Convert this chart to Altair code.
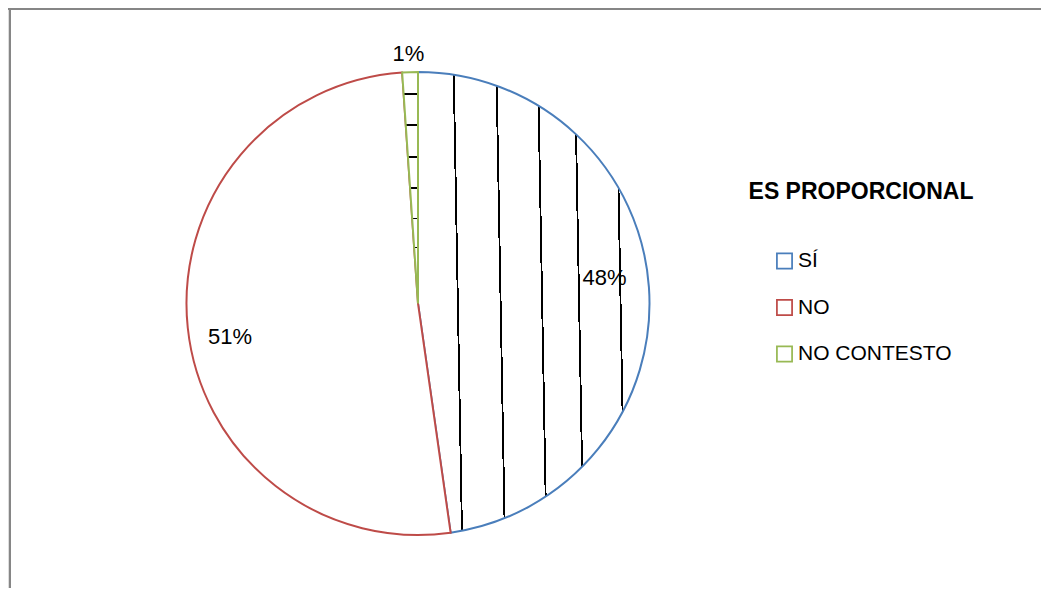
import altair as alt
import pandas as pd

# ---- data ----
categories = ["SÍ", "NO", "NO CONTESTO"]
values = [47.75, 51.16, 1.09]
labels = ["48%", "51%", "1%"]
order = [0, 1, 2]
colors = ["#4A7EBB", "#BE4B48", "#98B954"]
legend_title = "ES PROPORCIONAL"

df = pd.DataFrame({"cat": categories, "value": values, "label": labels, "idx": order})

FONT = "Liberation Sans"
W, H = 1033, 580
CX, CY, R = 410, 295.5, 231.5


def stripes(offsets, hw, vertical_lines=True, slant=0.0):
    stops = [{"offset": 0, "color": "white"}]
    for o in offsets:
        stops += [
            {"offset": round(o - hw, 4), "color": "white"},
            {"offset": round(o - hw, 4), "color": "black"},
            {"offset": round(o + hw, 4), "color": "black"},
            {"offset": round(o + hw, 4), "color": "white"},
        ]
    stops.append({"offset": 1, "color": "white"})
    if vertical_lines:
        return {"gradient": "linear", "x1": 0, "y1": 0, "x2": 1, "y2": -slant, "stops": stops}
    return {"gradient": "linear", "x1": 0, "y1": 0, "x2": 0, "y2": 1, "stops": stops}


hatch_si = stripes([0.1539, 0.3384, 0.5176, 0.677, 0.8559], 0.0040, True, 0.0359)
hatch_nc = stripes([0.095, 0.229, 0.369, 0.500, 0.633, 0.758], 0.0040, False)

base = alt.Chart(df).encode(
    theta=alt.Theta("value:Q", stack=True),
    order=alt.Order("idx:Q", sort="ascending"),
    x=alt.value(CX),
    y=alt.value(CY),
)

pie = base.mark_arc(radius=R, strokeWidth=2).encode(
    stroke=alt.Stroke(
        "cat:N",
        scale=alt.Scale(domain=categories, range=colors),
        sort=categories,
        legend=alt.Legend(
            title=None,
            orient="none",
            legendX=766,
            legendY=242.5,
            labelFont=FONT,
            labelFontSize=21,
            labelColor="black",
            labelOffset=3,
            labelLimit=400,
            symbolType="square",
            symbolSize=230,
            symbolStrokeWidth=1.75,
            symbolFillColor="white",
            rowPadding=23.5,
        ),
    ),
    fill={
        "condition": [
            {"test": "datum.cat === 'SÍ'", "value": hatch_si},
            {"test": "datum.cat === 'NO CONTESTO'", "value": hatch_nc},
        ],
        "value": "white",
    },
)


def label_layer(cat, radius, dx, dy):
    return base.mark_text(
        radius=radius, dx=dx, dy=dy, font=FONT, fontSize=22, color="black",
        align="center", baseline="middle",
    ).encode(
        text=alt.condition(f"datum.cat === '{cat}'", alt.Text("label:N"), alt.value("")),
    )


lab_si = label_layer("SÍ", 189, -2, -12)
lab_no = label_layer("NO", 189, 0, 14)
lab_nc = label_layer("NO CONTESTO", 251, -1, 1)

single = pd.DataFrame({"k": [0]})
title = alt.Chart(single).mark_text(
    text=legend_title, font=FONT, fontSize=23, fontWeight="bold", color="black",
    align="center", baseline="middle",
).encode(x=alt.value(853), y=alt.value(184))

left_border = alt.Chart(single).mark_rule(color="#868686", strokeWidth=2).encode(
    x=alt.value(2), y=alt.value(0), y2=alt.value(H)
)
top_border = alt.Chart(single).mark_rule(color="#868686", strokeWidth=2).encode(
    x=alt.value(0), x2=alt.value(W), y=alt.value(1)
)

chart = (
    alt.layer(pie, lab_si, lab_no, lab_nc, title, left_border, top_border)
    .properties(width=W, height=H, autosize=alt.AutoSizeParams(type="none"), padding=0)
    .configure_view(stroke=None)
    .configure(background="white")
)

chart.save("out.html", embed_options={"renderer": "svg", "actions": False})
